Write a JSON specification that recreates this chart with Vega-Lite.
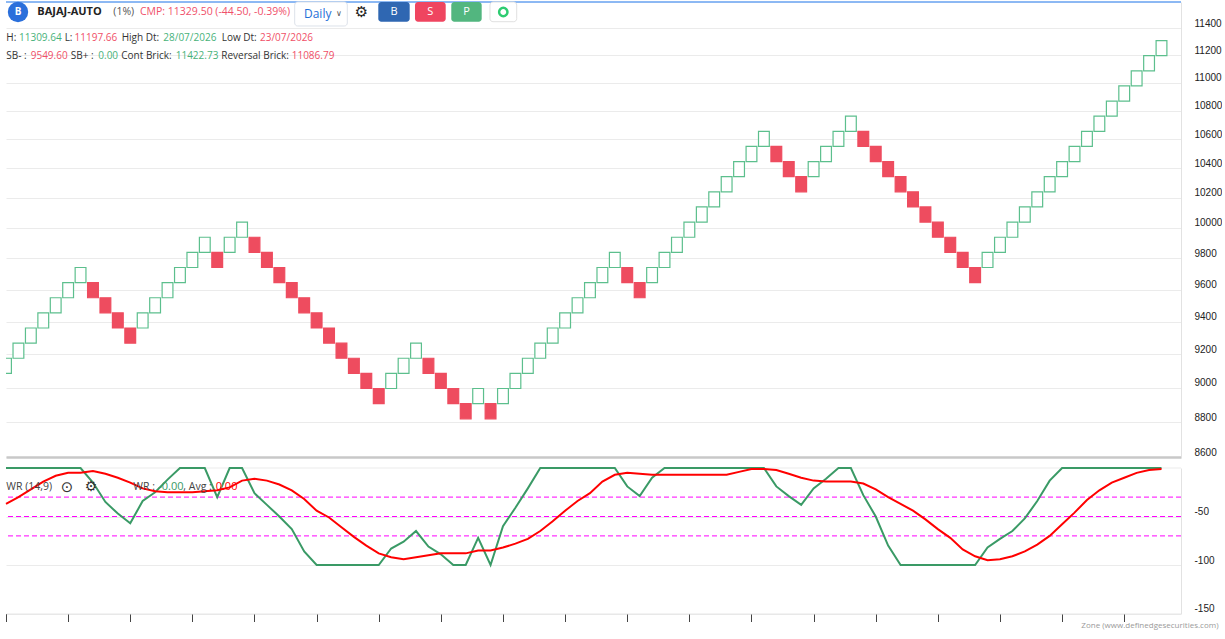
{
  "$schema": "https://vega.github.io/schema/vega-lite/v6.json",
  "background": "white",
  "padding": {"left": 2, "top": 1, "right": 0, "bottom": 0},
  "spacing": 7,
  "config": {
    "view": {"stroke": null},
    "font": "Open Sans",
    "axis": {"labelFont": "Liberation Sans", "labelFontSize": 10, "labelColor": "#222222"}
  },
  "datasets": {
    "bricks": [
      {"n":1,"open":9086.13,"close":9176.99},{"n":2,"open":9176.99,"close":9268.76},{"n":3,"open":9268.76,"close":9361.45},
      {"n":4,"open":9361.45,"close":9455.06},{"n":5,"open":9455.06,"close":9549.61},{"n":6,"open":9549.61,"close":9645.11},
      {"n":7,"open":9645.11,"close":9741.56},{"n":8,"open":9645.11,"close":9549.61},{"n":9,"open":9549.61,"close":9455.06},
      {"n":10,"open":9455.06,"close":9361.45},{"n":11,"open":9361.45,"close":9268.76},{"n":12,"open":9361.45,"close":9455.06},
      {"n":13,"open":9455.06,"close":9549.61},{"n":14,"open":9549.61,"close":9645.11},{"n":15,"open":9645.11,"close":9741.56},
      {"n":16,"open":9741.56,"close":9838.97},{"n":17,"open":9838.97,"close":9937.36},{"n":18,"open":9838.97,"close":9741.56},
      {"n":19,"open":9838.97,"close":9937.36},{"n":20,"open":9937.36,"close":10036.73},{"n":21,"open":9937.36,"close":9838.97},
      {"n":22,"open":9838.97,"close":9741.56},{"n":23,"open":9741.56,"close":9645.11},{"n":24,"open":9645.11,"close":9549.61},
      {"n":25,"open":9549.61,"close":9455.06},{"n":26,"open":9455.06,"close":9361.45},{"n":27,"open":9361.45,"close":9268.76},
      {"n":28,"open":9268.76,"close":9176.99},{"n":29,"open":9176.99,"close":9086.13},{"n":30,"open":9086.13,"close":8996.17},
      {"n":31,"open":8996.17,"close":8907.10},{"n":32,"open":8996.17,"close":9086.13},{"n":33,"open":9086.13,"close":9176.99},
      {"n":34,"open":9176.99,"close":9268.76},{"n":35,"open":9176.99,"close":9086.13},{"n":36,"open":9086.13,"close":8996.17},
      {"n":37,"open":8996.17,"close":8907.10},{"n":38,"open":8907.10,"close":8818.91},{"n":39,"open":8907.10,"close":8996.17},
      {"n":40,"open":8907.10,"close":8818.91},{"n":41,"open":8907.10,"close":8996.17},{"n":42,"open":8996.17,"close":9086.13},
      {"n":43,"open":9086.13,"close":9176.99},{"n":44,"open":9176.99,"close":9268.76},{"n":45,"open":9268.76,"close":9361.45},
      {"n":46,"open":9361.45,"close":9455.06},{"n":47,"open":9455.06,"close":9549.61},{"n":48,"open":9549.61,"close":9645.11},
      {"n":49,"open":9645.11,"close":9741.56},{"n":50,"open":9741.56,"close":9838.97},{"n":51,"open":9741.56,"close":9645.11},
      {"n":52,"open":9645.11,"close":9549.61},{"n":53,"open":9645.11,"close":9741.56},{"n":54,"open":9741.56,"close":9838.97},
      {"n":55,"open":9838.97,"close":9937.36},{"n":56,"open":9937.36,"close":10036.73},{"n":57,"open":10036.73,"close":10137.10},
      {"n":58,"open":10137.10,"close":10238.47},{"n":59,"open":10238.47,"close":10340.85},{"n":60,"open":10340.85,"close":10444.26},
      {"n":61,"open":10444.26,"close":10548.70},{"n":62,"open":10548.70,"close":10654.19},{"n":63,"open":10548.70,"close":10444.26},
      {"n":64,"open":10444.26,"close":10340.85},{"n":65,"open":10340.85,"close":10238.47},{"n":66,"open":10340.85,"close":10444.26},
      {"n":67,"open":10444.26,"close":10548.70},{"n":68,"open":10548.70,"close":10654.19},{"n":69,"open":10654.19,"close":10760.73},
      {"n":70,"open":10654.19,"close":10548.70},{"n":71,"open":10548.70,"close":10444.26},{"n":72,"open":10444.26,"close":10340.85},
      {"n":73,"open":10340.85,"close":10238.47},{"n":74,"open":10238.47,"close":10137.10},{"n":75,"open":10137.10,"close":10036.73},
      {"n":76,"open":10036.73,"close":9937.36},{"n":77,"open":9937.36,"close":9838.97},{"n":78,"open":9838.97,"close":9741.56},
      {"n":79,"open":9741.56,"close":9645.11},{"n":80,"open":9741.56,"close":9838.97},{"n":81,"open":9838.97,"close":9937.36},
      {"n":82,"open":9937.36,"close":10036.73},{"n":83,"open":10036.73,"close":10137.10},{"n":84,"open":10137.10,"close":10238.47},
      {"n":85,"open":10238.47,"close":10340.85},{"n":86,"open":10340.85,"close":10444.26},{"n":87,"open":10444.26,"close":10548.70},
      {"n":88,"open":10548.70,"close":10654.19},{"n":89,"open":10654.19,"close":10760.73},{"n":90,"open":10760.73,"close":10868.34},
      {"n":91,"open":10868.34,"close":10977.02},{"n":92,"open":10977.02,"close":11086.79},{"n":93,"open":11086.79,"close":11197.66},
      {"n":94,"open":11197.66,"close":11309.64}
    ],
    "wr": [
      {"n":1,"wr":0,"avg":-37},{"n":2,"wr":0,"avg":-30},{"n":3,"wr":0,"avg":-22},{"n":4,"wr":0,"avg":-14},{"n":5,"wr":0,"avg":-8},
      {"n":6,"wr":0,"avg":-5},{"n":7,"wr":0,"avg":-5},{"n":8,"wr":-15,"avg":-3},{"n":9,"wr":-35,"avg":-6},{"n":10,"wr":-47,"avg":-10},
      {"n":11,"wr":-57,"avg":-15},{"n":12,"wr":-34,"avg":-21},{"n":13,"wr":-25,"avg":-24},{"n":14,"wr":-12,"avg":-25},{"n":15,"wr":0,"avg":-25},
      {"n":16,"wr":0,"avg":-25},{"n":17,"wr":0,"avg":-24},{"n":18,"wr":-30,"avg":-23},{"n":19,"wr":0,"avg":-20},{"n":20,"wr":0,"avg":-13},
      {"n":21,"wr":-26,"avg":-11},{"n":22,"wr":-38,"avg":-13},{"n":23,"wr":-50,"avg":-17},{"n":24,"wr":-63,"avg":-23},{"n":25,"wr":-86,"avg":-32},
      {"n":26,"wr":-100,"avg":-44},{"n":27,"wr":-100,"avg":-51},{"n":28,"wr":-100,"avg":-61},{"n":29,"wr":-100,"avg":-71},{"n":30,"wr":-100,"avg":-80},
      {"n":31,"wr":-100,"avg":-88},{"n":32,"wr":-83,"avg":-92},{"n":33,"wr":-76,"avg":-94},{"n":34,"wr":-65,"avg":-92},{"n":35,"wr":-81,"avg":-90},
      {"n":36,"wr":-89,"avg":-88},{"n":37,"wr":-100,"avg":-88},{"n":38,"wr":-100,"avg":-88},{"n":39,"wr":-72,"avg":-85},{"n":40,"wr":-100,"avg":-85},
      {"n":41,"wr":-60,"avg":-82},{"n":42,"wr":-41,"avg":-78},{"n":43,"wr":-21,"avg":-73},{"n":44,"wr":0,"avg":-65},{"n":45,"wr":0,"avg":-55},
      {"n":46,"wr":0,"avg":-44},{"n":47,"wr":0,"avg":-34},{"n":48,"wr":0,"avg":-26},{"n":49,"wr":0,"avg":-14},{"n":50,"wr":0,"avg":-7},
      {"n":51,"wr":-19,"avg":-5},{"n":52,"wr":-29,"avg":-6},{"n":53,"wr":-10,"avg":-7},{"n":54,"wr":0,"avg":-7},{"n":55,"wr":0,"avg":-7},
      {"n":56,"wr":0,"avg":-7},{"n":57,"wr":0,"avg":-7},{"n":58,"wr":0,"avg":-7},{"n":59,"wr":0,"avg":-7},{"n":60,"wr":0,"avg":-4},
      {"n":61,"wr":0,"avg":-1},{"n":62,"wr":0,"avg":-1},{"n":63,"wr":-19,"avg":-2},{"n":64,"wr":-29,"avg":-6},{"n":65,"wr":-38,"avg":-10},
      {"n":66,"wr":-21,"avg":-13},{"n":67,"wr":-11,"avg":-14},{"n":68,"wr":0,"avg":-14},{"n":69,"wr":0,"avg":-14},{"n":70,"wr":-28,"avg":-16},
      {"n":71,"wr":-50,"avg":-22},{"n":72,"wr":-80,"avg":-30},{"n":73,"wr":-100,"avg":-37},{"n":74,"wr":-100,"avg":-44},{"n":75,"wr":-100,"avg":-53},
      {"n":76,"wr":-100,"avg":-63},{"n":77,"wr":-100,"avg":-72},{"n":78,"wr":-100,"avg":-84},{"n":79,"wr":-100,"avg":-91},{"n":80,"wr":-82,"avg":-95},
      {"n":81,"wr":-73,"avg":-94},{"n":82,"wr":-65,"avg":-91},{"n":83,"wr":-52,"avg":-86},{"n":84,"wr":-34,"avg":-79},{"n":85,"wr":-13,"avg":-70},
      {"n":86,"wr":0,"avg":-58},{"n":87,"wr":0,"avg":-46},{"n":88,"wr":0,"avg":-33},{"n":89,"wr":0,"avg":-23},{"n":90,"wr":0,"avg":-15},
      {"n":91,"wr":0,"avg":-10},{"n":92,"wr":0,"avg":-5},{"n":93,"wr":0,"avg":-2},{"n":94,"wr":0,"avg":-1}
    ],
    "levels": [{"level":-30},{"level":-50},{"level":-70}]
  },
  "vconcat": [
    {
      "width": 1175,
      "height": 455,
      "layer": [
        {
          "data": {"name": "bricks"},
          "mark": {"type": "bar", "width": 10.8, "clip": true, "strokeWidth": 1.2},
          "encoding": {
            "x": {"field": "n", "type": "quantitative",
                  "scale": {"domain": [1, 95.57], "nice": false, "zero": false, "padding": 0},
                  "axis": {"title": null, "orient": "bottom", "labels": false, "ticks": false, "grid": false,
                           "domain": true, "domainColor": "#c8c8c8", "domainWidth": 2.5}},
            "y": {"field": "open", "type": "quantitative",
                  "scale": {"type": "log", "domain": [8600, 11600], "nice": false},
                  "axis": {"title": null, "orient": "right", "values": [8600,8800,9000,9200,9400,9600,9800,10000,10200,10400,10600,10800,11000,11200,11400],
                           "format": "d", "grid": true, "gridColor": "#ebebeb", "ticks": false, "domain": true, "domainColor": "#e2e2e2",
                           "labelPadding": 13, "labelOffset": -5, "labelAlign": "left", "labelBaseline": "middle"}},
            "y2": {"field": "close"},
            "fill": {"condition": {"test": "datum.close > datum.open", "value": "#ffffff"}, "value": "#ee4c5f"},
            "stroke": {"condition": {"test": "datum.close > datum.open", "value": "#5cbf8d"}, "value": "#ee4c5f"}
          }
        },
        {"data": {"values": [{}]}, "mark": {"type": "rule", "color": "#1a73e8", "strokeWidth": 1}, "encoding": {"y": {"datum": 11600}}},
        {"data": {"values": [{}]}, "mark": {"type": "point", "shape": "circle", "filled": true, "color": "#2a6fdb", "size": 415, "opacity": 1}, "encoding": {"x": {"datum": 1.966}, "y": {"datum": 11523.9}}},
        {"data": {"values": [{}]}, "mark": {"type": "text", "text": "B", "align": "center", "baseline": "middle", "fontSize": 10, "fontWeight": "bold", "color": "#ffffff"}, "encoding": {"x": {"datum": 1.966}, "y": {"datum": 11523.9}}},
        {"data": {"values": [{}]}, "mark": {"type": "text", "text": "BAJAJ-AUTO", "align": "left", "baseline": "middle", "fontSize": 11, "fontWeight": "bold", "color": "#222222"}, "encoding": {"x": {"datum": 3.519}, "y": {"datum": 11523.9}}},
        {"data": {"values": [{}]}, "mark": {"type": "text", "text": "(1%)", "align": "left", "baseline": "middle", "fontSize": 10.5, "color": "#555555"}, "encoding": {"x": {"datum": 9.636}, "y": {"datum": 11523.9}}},
        {"data": {"values": [{}]}, "mark": {"type": "text", "text": "CMP: 11329.50 (-44.50, -0.39%)", "align": "left", "baseline": "middle", "fontSize": 10.5, "color": "#f0506a"}, "encoding": {"x": {"datum": 11.785}, "y": {"datum": 11523.9}}},
        {"data": {"values": [{}]}, "mark": {"type": "rect", "fill": "#ffffff", "stroke": "#dde2ea", "strokeWidth": 1, "cornerRadius": 3}, "encoding": {"x": {"datum": 24.235}, "x2": {"datum": 28.469}, "y": {"datum": 11600}, "y2": {"datum": 11418.4}}},
        {"data": {"values": [{}]}, "mark": {"type": "text", "text": "Daily", "align": "left", "baseline": "middle", "fontSize": 12, "color": "#1f6fd8"}, "encoding": {"x": {"datum": 24.984}, "y": {"datum": 11508.8}}},
        {"data": {"values": [{}]}, "mark": {"type": "text", "text": "∨", "align": "center", "baseline": "middle", "fontSize": 8, "color": "#555555"}, "encoding": {"x": {"datum": 27.801}, "y": {"datum": 11512}}},
        {"data": {"values": [{}]}, "mark": {"type": "text", "text": "⚙", "align": "center", "baseline": "middle", "font": "DejaVu Sans", "fontSize": 15, "color": "#222222"}, "encoding": {"x": {"datum": 29.612}, "y": {"datum": 11523.9}}},
        {"data": {"values": [{}]}, "mark": {"type": "rect", "fill": "#2f67b2", "cornerRadius": 3}, "encoding": {"x": {"datum": 30.964}, "x2": {"datum": 33.491}, "y": {"datum": 11600}, "y2": {"datum": 11450.7}}},
        {"data": {"values": [{}]}, "mark": {"type": "rect", "fill": "#ef4560", "cornerRadius": 3}, "encoding": {"x": {"datum": 33.918}, "x2": {"datum": 36.389}, "y": {"datum": 11600}, "y2": {"datum": 11450.7}}},
        {"data": {"values": [{}]}, "mark": {"type": "rect", "fill": "#52b67f", "cornerRadius": 3}, "encoding": {"x": {"datum": 36.839}, "x2": {"datum": 39.286}, "y": {"datum": 11600}, "y2": {"datum": 11450.7}}},
        {"data": {"values": [{}]}, "mark": {"type": "rect", "fill": "#ffffff", "stroke": "#e0e0e0", "strokeWidth": 1, "cornerRadius": 3}, "encoding": {"x": {"datum": 39.954}, "x2": {"datum": 42.103}, "y": {"datum": 11600}, "y2": {"datum": 11450.7}}},
        {"data": {"values": [{}]}, "mark": {"type": "text", "text": "B", "align": "center", "baseline": "middle", "fontSize": 11, "color": "#ffffff"}, "encoding": {"x": {"datum": 32.227}, "y": {"datum": 11523.9}}},
        {"data": {"values": [{}]}, "mark": {"type": "text", "text": "S", "align": "center", "baseline": "middle", "fontSize": 11, "color": "#ffffff"}, "encoding": {"x": {"datum": 35.149}, "y": {"datum": 11523.9}}},
        {"data": {"values": [{}]}, "mark": {"type": "text", "text": "P", "align": "center", "baseline": "middle", "fontSize": 11, "color": "#ffffff"}, "encoding": {"x": {"datum": 38.062}, "y": {"datum": 11523.9}}},
        {"data": {"values": [{}]}, "mark": {"type": "point", "shape": "circle", "filled": false, "stroke": "#2ecc71", "strokeWidth": 2.5, "size": 70, "opacity": 1}, "encoding": {"x": {"datum": 41.024}, "y": {"datum": 11523.9}}},
        {"data": {"values": [{}]}, "mark": {"type": "text", "text": "H:", "align": "left", "baseline": "middle", "fontSize": 10, "color": "#333333"}, "encoding": {"x": {"datum": 1.024}, "y": {"datum": 11330}}},
        {"data": {"values": [{}]}, "mark": {"type": "text", "text": "11309.64", "align": "left", "baseline": "middle", "fontSize": 10, "color": "#48b27a"}, "encoding": {"x": {"datum": 2.046}, "y": {"datum": 11330}}},
        {"data": {"values": [{}]}, "mark": {"type": "text", "text": "L:", "align": "left", "baseline": "middle", "fontSize": 10, "color": "#333333"}, "encoding": {"x": {"datum": 5.72}, "y": {"datum": 11330}}},
        {"data": {"values": [{}]}, "mark": {"type": "text", "text": "11197.66", "align": "left", "baseline": "middle", "fontSize": 10, "color": "#f05068"}, "encoding": {"x": {"datum": 6.52}, "y": {"datum": 11330}}},
        {"data": {"values": [{}]}, "mark": {"type": "text", "text": "High Dt:", "align": "left", "baseline": "middle", "fontSize": 10, "color": "#333333"}, "encoding": {"x": {"datum": 10.312}, "y": {"datum": 11330}}},
        {"data": {"values": [{}]}, "mark": {"type": "text", "text": "28/07/2026", "align": "left", "baseline": "middle", "fontSize": 10, "color": "#48b27a"}, "encoding": {"x": {"datum": 13.66}, "y": {"datum": 11330}}},
        {"data": {"values": [{}]}, "mark": {"type": "text", "text": "Low Dt:", "align": "left", "baseline": "middle", "fontSize": 10, "color": "#333333"}, "encoding": {"x": {"datum": 18.36}, "y": {"datum": 11330}}},
        {"data": {"values": [{}]}, "mark": {"type": "text", "text": "23/07/2026", "align": "left", "baseline": "middle", "fontSize": 10, "color": "#f05068"}, "encoding": {"x": {"datum": 21.443}, "y": {"datum": 11330}}},
        {"data": {"values": [{}]}, "mark": {"type": "text", "text": "SB- :", "align": "left", "baseline": "middle", "fontSize": 10, "color": "#333333"}, "encoding": {"x": {"datum": 1.024}, "y": {"datum": 11198.9}}},
        {"data": {"values": [{}]}, "mark": {"type": "text", "text": "9549.60", "align": "left", "baseline": "middle", "fontSize": 10, "color": "#f05068"}, "encoding": {"x": {"datum": 2.988}, "y": {"datum": 11198.9}}},
        {"data": {"values": [{}]}, "mark": {"type": "text", "text": "SB+ :", "align": "left", "baseline": "middle", "fontSize": 10, "color": "#333333"}, "encoding": {"x": {"datum": 6.207}, "y": {"datum": 11198.9}}},
        {"data": {"values": [{}]}, "mark": {"type": "text", "text": "0.00", "align": "left", "baseline": "middle", "fontSize": 10, "color": "#48b27a"}, "encoding": {"x": {"datum": 8.429}, "y": {"datum": 11198.9}}},
        {"data": {"values": [{}]}, "mark": {"type": "text", "text": "Cont Brick:", "align": "left", "baseline": "middle", "fontSize": 10, "color": "#333333"}, "encoding": {"x": {"datum": 10.28}, "y": {"datum": 11198.9}}},
        {"data": {"values": [{}]}, "mark": {"type": "text", "text": "11422.73", "align": "left", "baseline": "middle", "fontSize": 10, "color": "#48b27a"}, "encoding": {"x": {"datum": 14.658}, "y": {"datum": 11198.9}}},
        {"data": {"values": [{}]}, "mark": {"type": "text", "text": "Reversal Brick:", "align": "left", "baseline": "middle", "fontSize": 10, "color": "#333333"}, "encoding": {"x": {"datum": 18.328}, "y": {"datum": 11198.9}}},
        {"data": {"values": [{}]}, "mark": {"type": "text", "text": "11086.79", "align": "left", "baseline": "middle", "fontSize": 10, "color": "#f05068"}, "encoding": {"x": {"datum": 23.994}, "y": {"datum": 11198.9}}}
      ]
    },
    {
      "width": 1175,
      "height": 145.5,
      "layer": [
        {"data": {"values": [{}]}, "mark": {"type": "rule", "color": "#ebebeb", "strokeWidth": 1}, "encoding": {"y": {"datum": 0}}},
        {
          "data": {"name": "levels"},
          "mark": {"type": "rule", "color": "#ff00ff", "strokeWidth": 1, "strokeDash": [5, 3]},
          "encoding": {
            "y": {"field": "level", "type": "quantitative",
                  "scale": {"domain": [-150, 0], "nice": false, "zero": false},
                  "axis": {"title": null, "orient": "right", "values": [-150, -100, -50],
                           "labelExpr": "'' + datum.value",
                           "grid": true, "gridColor": "#ebebeb", "ticks": false, "domain": true, "domainColor": "#e2e2e2",
                           "labelPadding": 13, "labelOffset": -5, "labelAlign": "left", "labelBaseline": "middle"}}
          }
        },
        {
          "data": {"name": "wr"},
          "mark": {"type": "line", "color": "#3a9a66", "strokeWidth": 2},
          "encoding": {
            "x": {"field": "n", "type": "quantitative",
                  "scale": {"domain": [1, 95.57], "nice": false, "zero": false, "padding": 0},
                  "axis": {"orient": "bottom", "values": [1,6,11,16,21,26,31,36,41,46,51,56,61,66,71,76,81,86,91],
                           "labels": false, "ticks": true, "tickSize": 8, "tickColor": "#444444", "tickWidth": 1,
                           "grid": false, "domain": true, "domainColor": "#e6e6e6",
                           "title": "Zone (www.definedgesecurities.com)", "titleFont": "Open Sans", "titleFontSize": 8,
                           "titleFontWeight": "normal", "titleColor": "#9a9a9a", "titleAnchor": "end", "titleAlign": "right",
                           "titleBaseline": "middle", "titleX": 1212, "titleY": 12}},
            "y": {"field": "wr", "type": "quantitative"}
          }
        },
        {
          "data": {"name": "wr"},
          "mark": {"type": "line", "color": "#ff0000", "strokeWidth": 2},
          "encoding": {
            "x": {"field": "n", "type": "quantitative"},
            "y": {"field": "avg", "type": "quantitative"}
          }
        },
        {"data": {"values": [{}]}, "mark": {"type": "text", "text": "WR (14,9)", "align": "left", "baseline": "middle", "fontSize": 10.5, "color": "#444444"}, "encoding": {"x": {"datum": 1.024}, "y": {"datum": -19.6}}},
        {"data": {"values": [{}]}, "mark": {"type": "text", "text": "⊙", "align": "center", "baseline": "middle", "font": "DejaVu Sans", "fontSize": 15, "color": "#333333"}, "encoding": {"x": {"datum": 5.909}, "y": {"datum": -19.6}}},
        {"data": {"values": [{}]}, "mark": {"type": "text", "text": "⚙", "align": "center", "baseline": "middle", "font": "DejaVu Sans", "fontSize": 14, "color": "#333333"}, "encoding": {"x": {"datum": 7.841}, "y": {"datum": -19.6}}},
        {"data": {"values": [{}]}, "mark": {"type": "text", "text": "WR :", "align": "left", "baseline": "middle", "fontSize": 10.5, "color": "#444444"}, "encoding": {"x": {"datum": 11.245}, "y": {"datum": -19.6}}},
        {"data": {"values": [{}]}, "mark": {"type": "text", "text": "-0.00", "align": "left", "baseline": "middle", "fontSize": 11, "color": "#3a9a66"}, "encoding": {"x": {"datum": 13.257}, "y": {"datum": -19.6}}},
        {"data": {"values": [{}]}, "mark": {"type": "text", "text": ", Avg :", "align": "left", "baseline": "middle", "fontSize": 10.5, "color": "#444444"}, "encoding": {"x": {"datum": 15.27}, "y": {"datum": -19.6}}},
        {"data": {"values": [{}]}, "mark": {"type": "text", "text": "0.00", "align": "left", "baseline": "middle", "fontSize": 11, "color": "#ff0000"}, "encoding": {"x": {"datum": 17.877}, "y": {"datum": -19.6}}}
      ]
    }
  ]
}
